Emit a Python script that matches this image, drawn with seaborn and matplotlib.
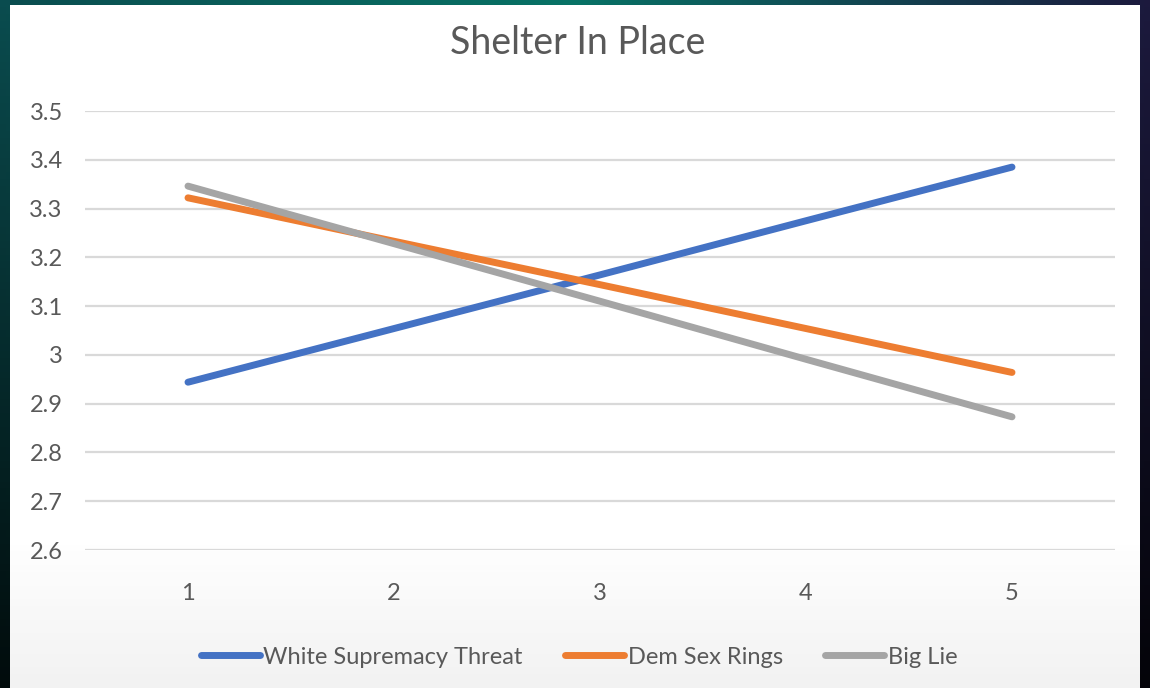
import numpy as np
import pandas as pd
import matplotlib.pyplot as plt
import seaborn as sns
from matplotlib.lines import Line2D

# data
x_vals = [1, 2, 3, 4, 5]
white_supremacy = [2.944, 3.054, 3.164, 3.275, 3.385]
dem_sex_rings = [3.322, 3.233, 3.144, 3.054, 2.964]
big_lie = [3.346, 3.228, 3.110, 2.991, 2.873]
series_names = ["White Supremacy Threat", "Dem Sex Rings", "Big Lie"]
colors = ["#4472C4", "#ED7D31", "#A5A5A5"]
y_ticks = [2.6, 2.7, 2.8, 2.9, 3.0, 3.1, 3.2, 3.3, 3.4, 3.5]
y_labels = ["2.6", "2.7", "2.8", "2.9", "3", "3.1", "3.2", "3.3", "3.4", "3.5"]

df = pd.DataFrame({
    "x": x_vals * 3,
    "value": white_supremacy + dem_sex_rings + big_lie,
    "series": [s for s in series_names for _ in x_vals],
})

sns.set_style("white")
plt.rcParams['font.family'] = ['Lato', 'DejaVu Sans']

fig = plt.figure(figsize=(11.5, 6.88), dpi=100)

# dark slide background with gradient
bg = fig.add_axes([0, 0, 1, 1], zorder=-2)
h, w = 100, 200
xx = np.linspace(0, 1, w)[None, :]
yy = np.linspace(0, 1, h)[:, None]
left = np.array([0.04, 0.30, 0.31])
mid = np.array([0.03, 0.45, 0.40])
right = np.array([0.11, 0.10, 0.24])
t = xx[..., None]
horiz = np.where(t < 0.5, left + (mid - left) * (t / 0.5), mid + (right - mid) * ((t - 0.5) / 0.5))
shade = (1 - yy[..., None] * 0.85)
img = np.clip(horiz * shade, 0, 1)
img = np.broadcast_to(img, (h, w, 3))
bg.imshow(img, aspect="auto", extent=[0, 1, 0, 1], origin="upper")

# white panel, slightly greyer towards the bottom
g = np.ones(100)
g[78:] = np.linspace(1.0, 0.95, 22)
panel = np.ones((100, 2, 3)) * g[:, None, None]
bg.imshow(panel, aspect="auto", extent=[10 / 1150, 1140 / 1150, 0, 683 / 688],
          origin="upper", zorder=2)
bg.set_xlim(0, 1)
bg.set_ylim(0, 1)
bg.axis("off")

ax = fig.add_axes([85 / 1150, 1 - 550 / 688, 1030 / 1150, 439 / 688])
ax.set_facecolor("none")
sns.lineplot(data=df, x="x", y="value", hue="series", palette=colors,
             linewidth=5, solid_capstyle="round", legend=False, ax=ax)

ax.set_xlim(0.5, 5.5)
ax.set_ylim(2.6, 3.5)
ax.set_yticks(y_ticks)
ax.set_yticklabels(y_labels)
ax.set_xticks(x_vals)
ax.set_xticklabels([str(v) for v in x_vals])
ax.yaxis.grid(True, color="#D9D9D9", linewidth=1.6, zorder=0)
ax.set_axisbelow(True)
for s in ax.spines.values():
    s.set_visible(False)
ax.tick_params(axis="both", length=0, labelsize=17, colors="#595959")
ax.tick_params(axis="y", pad=16)
ax.tick_params(axis="x", pad=24)
ax.set_xlabel("")
ax.set_ylabel("")

fig.text(578 / 1150, 1 - 43 / 688, "Shelter In Place", ha="center", va="center",
         fontsize=27, color="#595959")

handles = [Line2D([0], [0], color=c, linewidth=5, solid_capstyle="round") for c in colors]
fig.legend(handles, series_names, loc="center", bbox_to_anchor=(579 / 1150, 1 - 657 / 688),
           ncol=3, frameon=False, fontsize=17, handlelength=2.5, handletextpad=0.15,
           columnspacing=1.8, labelcolor="#595959")

fig.savefig("out.png", dpi=100)
